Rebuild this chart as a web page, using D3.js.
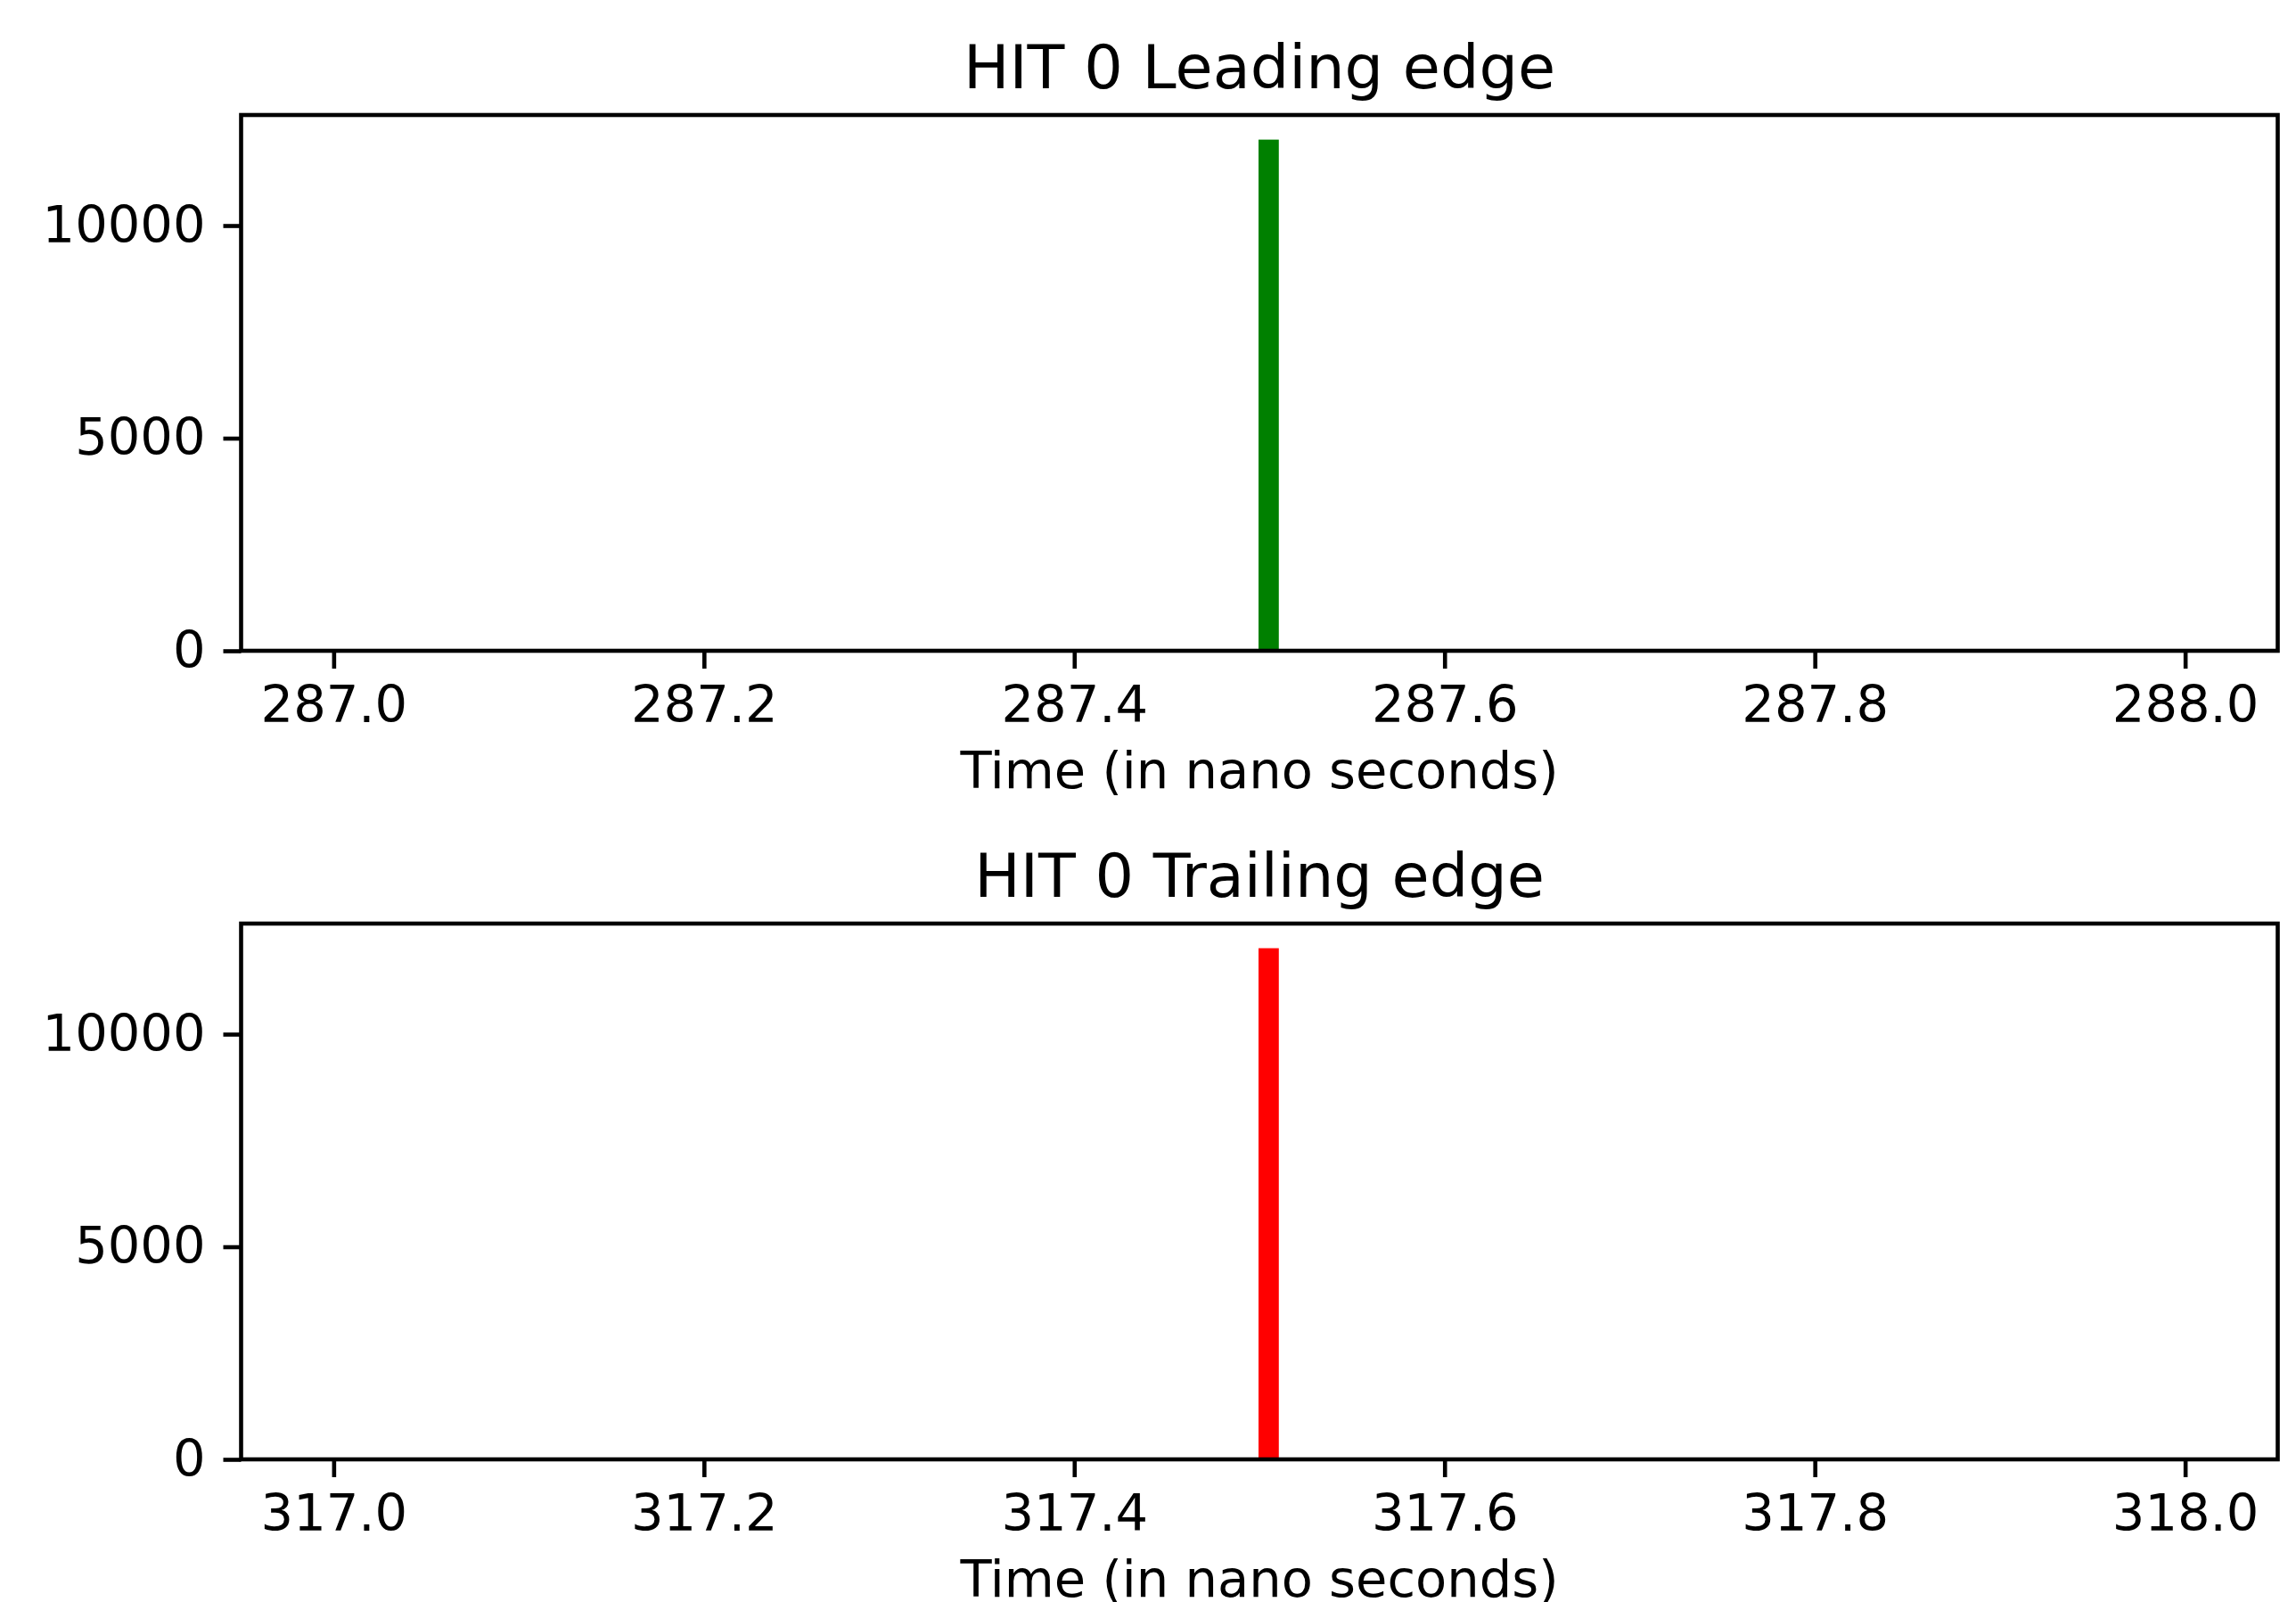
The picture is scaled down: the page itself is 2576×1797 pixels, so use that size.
<!DOCTYPE html>
<html>
<head>
<meta charset="utf-8">
<script src="https://cdn.jsdelivr.net/npm/d3@7"></script>
<style>
  body { margin: 0; background: #fff; }
  svg { display: block; font-family: "DejaVu Sans", sans-serif; }
</style>
</head>
<body>
<div class="chart"></div>
<script>
// histogram data, one entry per panel
const titles = ['HIT 0 Leading edge', 'HIT 0 Trailing edge'];
const histRanges = [[287.0, 288.0], [317.0, 318.0]];
const binStarts = [287.50, 317.50];
const binEnds = [287.51, 317.51];
const counts = [12000, 12000];
const xTicks = [
  [287.0, 287.2, 287.4, 287.6, 287.8, 288.0],
  [317.0, 317.2, 317.4, 317.6, 317.8, 318.0]
];
const yTicks = [0, 5000, 10000];
const xLabel = 'Time (in nano seconds)';

const barColors = ['green', 'red'];

const W = 2576;
const H = 1797;
const left = 270.5;
const right = 2555.5;
const panelTops = [129, 1036];
const plotH = 601;
const lw = 4.6;

const svg = d3.select('.chart').append('svg')
  .attr('width', W)
  .attr('height', H);

titles.forEach((title, i) => {
  const top = panelTops[i];
  const bottom = top + plotH;
  const [r0, r1] = histRanges[i];
  const pad = (r1 - r0) * 0.05;

  const x = d3.scaleLinear().domain([r0 - pad, r1 + pad]).range([left, right]);
  const y = d3.scaleLinear().domain([0, d3.max(counts) * 1.05]).range([bottom, top]);

  const g = svg.append('g');

  // bar
  g.append('rect')
    .attr('x', x(binStarts[i]))
    .attr('width', x(binEnds[i]) - x(binStarts[i]))
    .attr('y', y(counts[i]))
    .attr('height', y(0) - y(counts[i]))
    .attr('fill', barColors[i])
    .attr('stroke', barColors[i])
    .attr('stroke-width', 2);

  // x axis
  const xa = g.append('g')
    .attr('transform', `translate(0, ${bottom})`)
    .call(d3.axisBottom(x).tickValues(xTicks[i]).tickFormat(d3.format('.1f'))
      .tickSizeInner(20).tickSizeOuter(0).tickPadding(19));
  xa.select('.domain').remove();

  // y axis
  const ya = g.append('g')
    .attr('transform', `translate(${left}, 0)`)
    .call(d3.axisLeft(y).tickValues(yTicks).tickFormat(d3.format('d'))
      .tickSizeInner(20).tickSizeOuter(0).tickPadding(20));
  ya.select('.domain').remove();

  g.selectAll('.tick line').attr('stroke', '#000').attr('stroke-width', lw);
  g.selectAll('.tick text')
    .attr('fill', '#000')
    .style('font-size', '57.5px')
    .style('font-family', '"DejaVu Sans", sans-serif');

  // frame
  g.append('rect')
    .attr('x', left)
    .attr('y', top)
    .attr('width', right - left)
    .attr('height', plotH)
    .attr('fill', 'none')
    .attr('stroke', '#000')
    .attr('stroke-width', lw);

  g.append('text')
    .attr('x', (left + right) / 2)
    .attr('y', top - 30)
    .attr('text-anchor', 'middle')
    .style('font-size', '68.5px')
    .text(title);

  g.append('text')
    .attr('x', (left + right) / 2)
    .attr('y', bottom + 154)
    .attr('text-anchor', 'middle')
    .style('font-size', '57.5px')
    .text(xLabel);
});
</script>
</body>
</html>
